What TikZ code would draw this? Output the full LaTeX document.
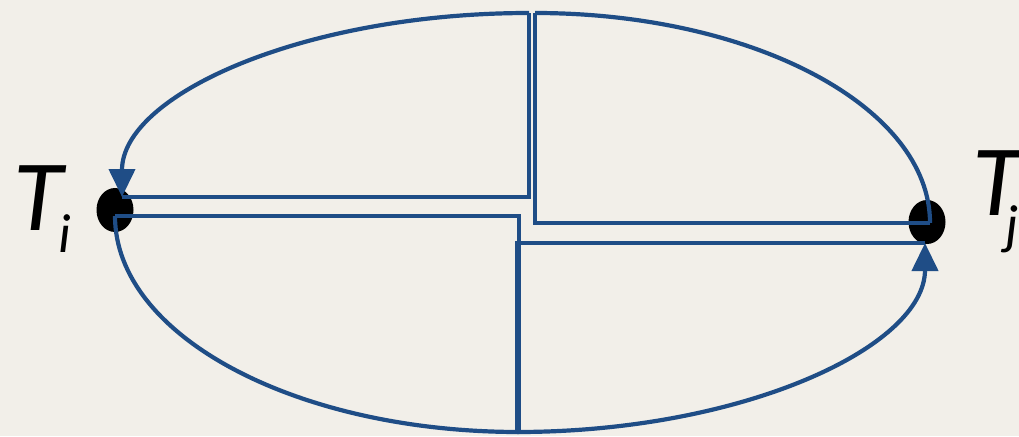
\documentclass[tikz,border=0pt]{standalone}
\usepackage{fontspec}
\setmainfont{Carlito}
\usetikzlibrary{arrows.meta,shapes.geometric}
\definecolor{arcblue}{RGB}{31,77,134}
\definecolor{paper}{RGB}{242,239,233}

\begin{document}
\begin{tikzpicture}[x=1pt,y=-1pt,
  wire/.style={draw=arcblue,line width=4.2pt},
  flow/.style={wire,-{Triangle[length=28pt,width=26pt]}},
  vertex/.style={ellipse,fill=black,minimum width=37pt,minimum height=44pt,inner sep=0},
  lbl/.style={inner sep=0,anchor=base west,font=\fontsize{101}{101}\selectfont\itshape},
  sub/.style={inner sep=0,anchor=base west,font=\fontsize{55}{55}\selectfont\itshape}]
  \fill[paper] (0,0) rectangle (1019,436);
  \useasboundingbox (0,0) rectangle (1019,436);

  % the two terminals
  \node[vertex] (ti) at (115,210) {};
  \node[vertex] (tj) at (927,222) {};
  \node[lbl] (ti t) at (13,230) {T};
  \node[sub] (ti s) at (58,252) {i};
  \node[lbl] (tj t) at (972,215) {T};
  \node[sub] (tj s) at (1005,243) {j};

  % ends of the four arcs
  \coordinate (top l) at (529,13);
  \coordinate (top r) at (535,13);
  \coordinate (bot l) at (519,432);
  \coordinate (bot r) at (517,432);
  \coordinate (ti up) at (122,197);
  \coordinate (ti lo) at (115,216);
  \coordinate (tj up) at (930,223);
  \coordinate (tj lo) at (925,243);

  % upper left, towards T_i
  \draw[flow] (top l) .. controls (304,13) and (122,95) .. (ti up);
  \draw[wire] (ti up) -| (top l);
  % upper right
  \draw[wire] (top r) .. controls (753,13) and (930,107) .. (tj up);
  \draw[wire] (tj up) -| (top r);
  % lower left
  \draw[wire] (ti lo) .. controls (115,336) and (296,432) .. (bot l);
  \draw[wire] (ti lo) -| (bot l);
  % lower right, towards T_j
  \draw[flow] (bot r) .. controls (742,432) and (925,347) .. (tj lo);
  \draw[wire] (tj lo) -| (bot r);
\end{tikzpicture}
\end{document}
